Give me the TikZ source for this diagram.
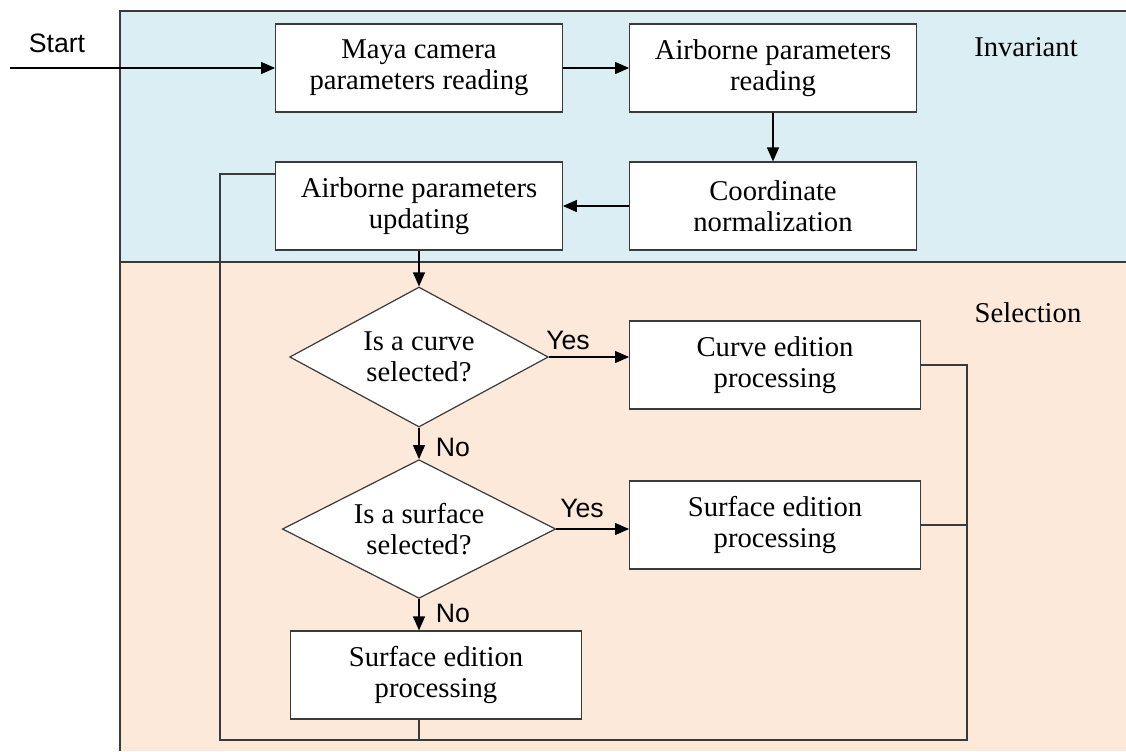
\documentclass[tikz,border=0pt]{standalone}
\usepackage{fontspec}
\setmainfont{Liberation Serif}
\newfontfamily\sansf{Liberation Sans}
\usetikzlibrary{shapes.geometric,arrows.meta,calc}

\definecolor{invblue}{HTML}{DAEEF3}
\definecolor{selpeach}{HTML}{FDE9D9}
\definecolor{edge}{HTML}{3A3A3A}

\tikzset{
  procbox/.style={draw=edge,fill=white,line width=0.9pt,align=center,
    minimum width=215pt,minimum height=66pt,inner sep=2pt,
    font=\fontsize{21.5}{23}\selectfont},
  decide/.style={diamond,draw=edge,fill=white,line width=0.9pt,align=center,
    inner sep=0pt,aspect=1.9,minimum height=105pt,font=\fontsize{21.5}{23}\selectfont},
  flow/.style={line width=0.9pt,-{Triangle[length=10.5pt,width=9pt]}},
  link/.style={line width=0.9pt,edge},
  tag/.style={font=\sansf\fontsize{20}{22}\selectfont},
  zone/.style={font=\fontsize{21.5}{23}\selectfont}
}

\begin{document}
\begin{tikzpicture}[x=0.75pt,y=-0.75pt]
\useasboundingbox (0,0) rectangle (1126,751);

% two zones
\fill[invblue] (120,11) rectangle (1126,262);
\fill[selpeach] (120,262) rectangle (1126,751);
\draw[link] (1126,11) -- (120,11) -- (120,751);
\draw[link] (120,262) -- (1126,262);
\node[zone] (inv) at (1026,47) {Invariant};
\node[zone] (sel) at (1028,313) {Selection};

% boxes
\node[procbox] (maya) at (419,68) {Maya camera\\parameters reading};
\node[procbox] (airread) at (773,68) {Airborne parameters\\reading};
\node[procbox] (coord) at (773,206) {Coordinate\\normalization};
\node[procbox] (airupd) at (419,206) {Airborne parameters\\updating};
\node[decide,minimum width=194pt] (qcurve) at (419,357) {Is a curve\\selected?};
\node[procbox,minimum width=218pt] (curve) at (775,365) {Curve edition\\processing};
\node[decide,minimum width=205pt,minimum height=104pt] (qsurf) at (419,529) {Is a surface\\selected?};
\node[procbox,minimum width=218pt] (surf) at (775,525) {Surface edition\\processing};
\node[procbox,minimum width=218pt] (surfno) at (436,675) {Surface edition\\processing};

% labels
\node[tag] (start) at (57,43) {Start};
\node[tag] (yes1) at (568,340) {Yes};
\node[tag] (yes2) at (582,508) {Yes};
\node[tag] (no1) at (453,447) {No};
\node[tag] (no2) at (453,613) {No};

\coordinate (in) at (10,68);
\coordinate (loopL) at (220,740);
\coordinate (loopR) at (967,740);

% main flow
\draw[flow] (in) -- (maya);
\draw[flow] (maya) -- (airread);
\draw[flow] (airread) -- (coord);
\draw[flow] (coord) -- (airupd);
\draw[flow] (airupd) -- (qcurve);
\draw[flow] (qcurve) -- (curve.west |- qcurve.east);
\draw[flow] (qcurve) -- (qsurf);
\draw[flow] (qsurf) -- (surf.west |- qsurf.east);
\draw[flow] (qsurf.south) -- (qsurf.south |- surfno.north);

% loop back
\draw[link] (curve.east) -- (loopR |- curve.east) -- (loopR) -- (loopL)
  -- (loopL |- 0,174) -- (airupd.west |- 0,174);
\draw[link] (surf.east) -- (loopR |- surf.east);
\draw[link] (qsurf.south |- surfno.south) -- (qsurf.south |- loopL);

\end{tikzpicture}
\end{document}
